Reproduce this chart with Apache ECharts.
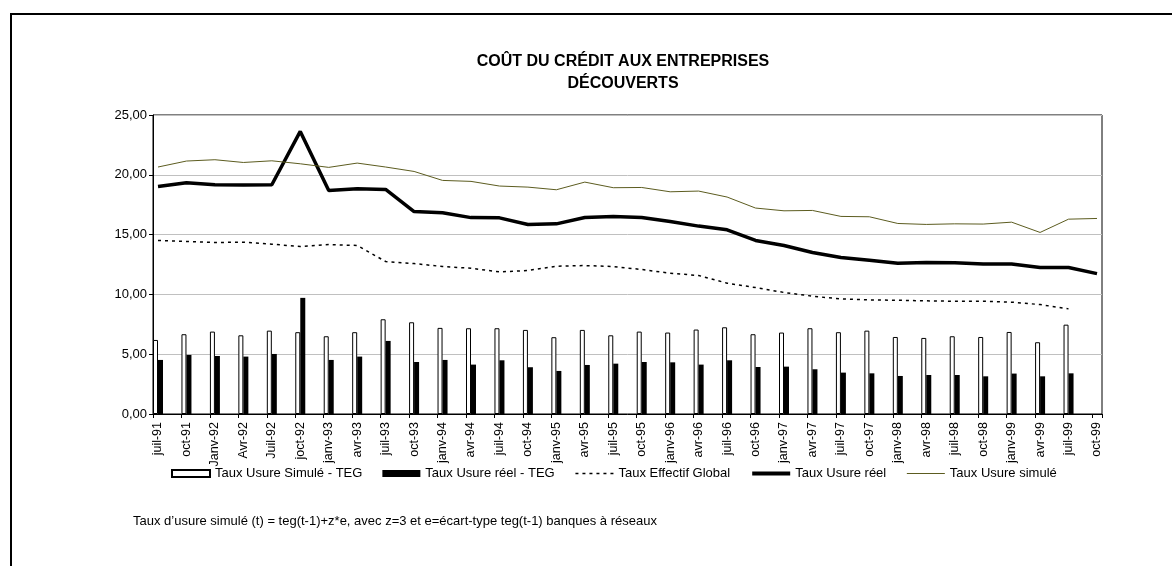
<!DOCTYPE html>
<html>
<head>
<meta charset="utf-8">
<script src="https://cdn.jsdelivr.net/npm/echarts@6/dist/echarts.min.js"></script>
<style>
  html, body { margin: 0; padding: 0; background: #fff; }
  #chart { width: 1172px; height: 566px; }
</style>
</head>
<body>
<div id="chart"></div>
<script>
// catégories trimestrielles (libellés tels quels)
const categories = ['juil-91','oct-91','Janv-92','Avr-92','Juil-92','joct-92','janv-93','avr-93','juil-93','oct-93',
  'janv-94','avr-94','juil-94','oct-94','janv-95','avr-95','juil-95','oct-95','janv-96','avr-96',
  'juil-96','oct-96','janv-97','avr-97','juil-97','oct-97','janv-98','avr-98','juil-98','oct-98',
  'janv-99','avr-99','juil-99','oct-99'];

// barres
const usureSimuleMoinsTeg = [6.19,6.67,6.89,6.58,6.97,6.84,6.50,6.84,7.92,7.67,
  7.20,7.17,7.17,7.03,6.42,7.03,6.58,6.89,6.81,7.06,
  7.25,6.67,6.81,7.17,6.84,6.97,6.44,6.36,6.50,6.44,
  6.86,6.00,7.47,null];
const usureReelMoinsTeg = [4.52,4.94,4.85,4.80,5.02,9.71,4.52,4.80,6.11,4.35,
  4.52,4.13,4.49,3.91,3.60,4.10,4.21,4.35,4.32,4.13,
  4.49,3.93,3.96,3.74,3.46,3.40,3.18,3.26,3.26,3.15,
  3.38,3.15,3.40,null];

// courbes
const tauxEffectifGlobal = [14.51,14.42,14.34,14.37,14.20,14.00,14.17,14.09,12.75,12.58,
  12.33,12.19,11.88,12.00,12.36,12.41,12.33,12.08,11.77,11.58,
  10.94,10.57,10.16,9.85,9.62,9.54,9.51,9.46,9.43,9.43,
  9.35,9.15,8.79,null];
const tauxUsureReel = [19.03,19.33,19.17,19.14,19.17,23.63,18.69,18.83,18.78,16.93,
  16.82,16.42,16.40,15.85,15.90,16.43,16.52,16.43,16.10,15.71,
  15.40,14.51,14.09,13.50,13.08,12.86,12.61,12.66,12.64,12.55,
  12.55,12.25,12.25,11.74];
const tauxUsureSimule = [20.65,21.15,21.26,21.03,21.17,20.92,20.62,20.98,20.65,20.28,
  19.53,19.45,19.06,18.97,18.75,19.39,18.92,18.94,18.58,18.64,
  18.14,17.22,16.99,17.02,16.52,16.49,15.93,15.85,15.90,15.88,
  16.04,15.18,16.29,16.35];

const yTicks = { min: 0, max: 25, interval: 5 };

const FONT = "'Liberation Sans', Arial, sans-serif";
const OLIVE = '#5c5c20';
const fr2 = v => v.toFixed(2).replace('.', ',');
const noSymbol = { opacity: 0 };

const chart = echarts.init(document.getElementById('chart'), null, { renderer: 'canvas' });

chart.setOption({
  animation: false,
  backgroundColor: '#fff',
  textStyle: { fontFamily: FONT, color: '#000' },
  title: [
    {
      text: 'COÛT DU CRÉDIT AUX ENTREPRISES\nDÉCOUVERTS',
      left: 618, top: 46, textAlign: 'center',
      textStyle: { fontFamily: FONT, fontSize: 16, fontWeight: 'bold', color: '#000', lineHeight: 22 }
    },
    {
      text: 'Taux d\u2019usure simulé (t) = teg(t-1)+z*e, avec z=3 et e=écart-type teg(t-1) banques à réseaux',
      left: 128, top: 510,
      textStyle: { fontFamily: FONT, fontSize: 13, fontWeight: 'normal', color: '#000' }
    }
  ],
  graphic: [{
    type: 'rect', silent: true,
    shape: { x: 11, y: 14, width: 1200, height: 600 },
    style: { fill: 'none', stroke: '#000', lineWidth: 2 }
  }],
  legend: {
    left: 166, top: 462,
    itemWidth: 38, itemHeight: 7, itemGap: 20,
    textStyle: { fontFamily: FONT, fontSize: 13, color: '#000' },
    data: [
      { name: 'Taux Usure Simulé - TEG', icon: 'rect' },
      { name: 'Taux Usure réel - TEG', icon: 'rect' },
      { name: 'Taux Effectif Global', itemStyle: noSymbol, lineStyle: { color: '#000', width: 1.5, type: [3, 4] } },
      { name: 'Taux Usure réel', itemStyle: noSymbol, lineStyle: { color: '#000', width: 4 } },
      { name: 'Taux Usure simulé', itemStyle: noSymbol, lineStyle: { color: OLIVE, width: 1.2 } }
    ]
  },
  grid: [
    // cadre, axe Y et graduations
    { left: 153, right: 70, top: 115, bottom: 152, show: true, borderColor: '#000', borderWidth: 1 },
    // zone des données (centres des catégories)
    { left: 158, right: 75, top: 115, bottom: 152 }
  ],
  xAxis: [
    {
      gridIndex: 0, type: 'value', min: 0, max: 33.35, interval: 1,
      axisLine: { show: true, lineStyle: { color: '#000', width: 1 } },
      axisTick: { show: true, inside: false, length: 4, lineStyle: { color: '#000' } },
      axisLabel: { show: false }, splitLine: { show: false }
    },
    {
      gridIndex: 1, type: 'category', boundaryGap: false, data: categories,
      axisLine: { show: false }, axisTick: { show: false }, splitLine: { show: false },
      axisLabel: { rotate: 90, margin: 8, interval: 0, fontFamily: FONT, fontSize: 12.5, color: '#000' }
    }
  ],
  yAxis: [
    {
      gridIndex: 0, type: 'value', min: yTicks.min, max: yTicks.max, interval: yTicks.interval,
      axisLine: { show: true, lineStyle: { color: '#000', width: 1 } },
      axisTick: { show: true, inside: false, length: 4, lineStyle: { color: '#000' } },
      axisLabel: { formatter: fr2, margin: 6, fontFamily: FONT, fontSize: 13, color: '#000' },
      splitLine: { show: true, lineStyle: { color: '#c0c0c0', width: 1 } }
    },
    {
      gridIndex: 1, type: 'value', min: yTicks.min, max: yTicks.max, show: false,
      splitLine: { show: false }
    }
  ],
  series: [
    {
      name: 'Taux Usure Simulé - TEG', type: 'bar', xAxisIndex: 1, yAxisIndex: 1,
      data: usureSimuleMoinsTeg, barWidth: 5, barGap: 0, clip: false,
      itemStyle: { color: '#fff', borderColor: '#000', borderWidth: 1 }
    },
    {
      name: 'Taux Usure réel - TEG', type: 'bar', xAxisIndex: 1, yAxisIndex: 1,
      data: usureReelMoinsTeg, barWidth: 5, barGap: 0, clip: false,
      itemStyle: { color: '#000' }
    },
    {
      name: 'Taux Effectif Global', type: 'line', xAxisIndex: 1, yAxisIndex: 1,
      data: tauxEffectifGlobal, symbol: 'none', clip: false,
      lineStyle: { color: '#000', width: 1.5, type: [3, 4] },
      itemStyle: { color: '#000' }
    },
    {
      name: 'Taux Usure réel', type: 'line', xAxisIndex: 1, yAxisIndex: 1,
      data: tauxUsureReel, symbol: 'none', clip: false,
      lineStyle: { color: '#000', width: 3.5 },
      itemStyle: { color: '#000' }
    },
    {
      name: 'Taux Usure simulé', type: 'line', xAxisIndex: 1, yAxisIndex: 1,
      data: tauxUsureSimule, symbol: 'none', clip: false,
      lineStyle: { color: OLIVE, width: 1 },
      itemStyle: { color: OLIVE }
    }
  ]
});
</script>
</body>
</html>
